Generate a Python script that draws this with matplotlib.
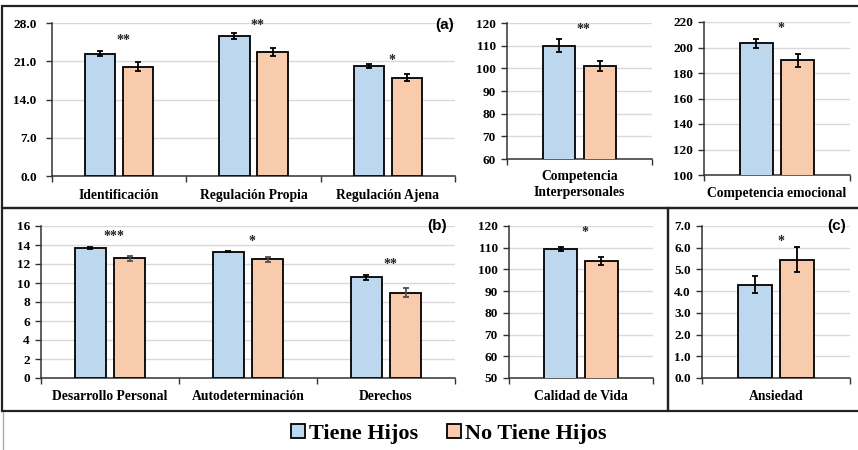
import matplotlib
matplotlib.use("Agg")
import matplotlib.pyplot as plt
from matplotlib.patches import Rectangle, Patch
from matplotlib.lines import Line2D
import numpy as np

# ---------------- data ----------------
cat_a = ['Identificación', 'Regulación Propia', 'Regulación Ajena']
a_tiene = [22.4, 25.6, 20.1]
a_tiene_err = [0.4, 0.55, 0.4]
a_no = [20.0, 22.7, 18.0]
a_no_err = [0.8, 0.8, 0.7]
a_sig = ['**', '**', '*']
a_sig_y = [24.8, 27.6, 21.2]

cat_ci = ['Competencia\nInterpersonales']
ci_tiene = [110.0]
ci_tiene_err = [2.8]
ci_no = [101.0]
ci_no_err = [2.2]
ci_sig = ['**']
ci_sig_y = [117.0]

cat_ce = ['Competencia emocional']
ce_tiene = [203.3]
ce_tiene_err = [3.3]
ce_no = [190.0]
ce_no_err = [5.0]
ce_sig = ['*']
ce_sig_y = [215.0]

cat_b = ['Desarrollo Personal', 'Autodeterminación', 'Derechos']
b_tiene = [13.7, 13.3, 10.6]
b_tiene_err = [0.12, 0.08, 0.25]
b_no = [12.6, 12.5, 9.0]
b_no_err = [0.25, 0.25, 0.5]
b_sig = ['***', '*', '**']
b_sig_y = [14.9, 14.4, 12.0]

cat_cv = ['Calidad de Vida']
cv_tiene = [109.4]
cv_tiene_err = [0.7]
cv_no = [103.9]
cv_no_err = [2.0]
cv_sig = ['*']
cv_sig_y = [117.2]

cat_an = ['Ansiedad']
an_tiene = [4.3]
an_tiene_err = [0.38]
an_no = [5.45]
an_no_err = [0.56]
an_sig = ['*']
an_sig_y = [6.3]

legend_labels = ['Tiene Hijos', 'No Tiene Hijos']

# ---------------- style ----------------
BLUE = '#BDD7EE'
ORANGE = '#F8CBAD'
SERIF = ['Liberation Serif', 'DejaVu Serif']
SANS = ['Liberation Sans', 'DejaVu Sans']

W, H = 858, 450
fig = plt.figure(figsize=(W / 100, H / 100), dpi=100)


def ax_at(x0, y0, x1, y1):
    return fig.add_axes([x0 / W, 1 - y1 / H, (x1 - x0) / W, (y1 - y0) / H])


def draw(ax, cats, t, te, n, ne, sig, sigy, ylim, step, fmt, err_no_color='black'):
    x = np.arange(len(cats))
    bw = 0.225
    off = 0.142
    ax.bar(x - off, t, bw, color=BLUE, edgecolor='black', linewidth=1.3, zorder=3)
    ax.bar(x + off, n, bw, color=ORANGE, edgecolor='black', linewidth=1.3, zorder=3)
    ax.errorbar(x - off, t, yerr=te, fmt='none', ecolor='black', elinewidth=1.3,
                capsize=2.5, capthick=1.3, zorder=4)
    ax.errorbar(x + off, n, yerr=ne, fmt='none', ecolor=err_no_color, elinewidth=1.3,
                capsize=2.5, capthick=1.3, zorder=4)
    for xi, s, sy in zip(x, sig, sigy):
        ax.text(xi + 0.03, sy, s, ha='center', va='center', fontsize=10,
                family=SERIF, fontweight='bold', color='#222222', zorder=5)
    ax.set_xlim(-0.5, len(cats) - 0.5)
    ax.set_ylim(*ylim)
    ticks = np.arange(ylim[0], ylim[1] + step / 2, step)
    ax.set_yticks(ticks)
    ax.set_yticklabels([fmt.format(v) for v in ticks], family=SERIF,
                       fontweight='bold', fontsize=9.5)
    ax.set_xticks(np.arange(-0.5, len(cats), 1.0))
    ax.set_xticklabels([])
    ax.set_xticks(x, minor=True)
    ax.set_xticklabels(cats, minor=True, family=SERIF, fontweight='bold',
                       fontsize=9.8, linespacing=1.3)
    ax.tick_params(axis='x', which='major', length=4, width=1, color='#333333')
    ax.tick_params(axis='x', which='minor', length=0, pad=9)
    ax.tick_params(axis='y', length=4, width=1, color='#333333', pad=4)
    ax.grid(axis='y', color='#D9D9D9', linewidth=1, zorder=0)
    ax.set_axisbelow(True)
    for sp in ['top', 'right']:
        ax.spines[sp].set_visible(False)
    for sp in ['left', 'bottom']:
        ax.spines[sp].set_color('#333333')
        ax.spines[sp].set_linewidth(1.1)
    ax.patch.set_alpha(0)


a1 = ax_at(52, 23, 455, 176)
draw(a1, cat_a, a_tiene, a_tiene_err, a_no, a_no_err, a_sig, a_sig_y, (0, 28), 7, '{:.1f}')
a1.tick_params(axis='y', pad=7)

a2 = ax_at(507, 23, 652, 159)
draw(a2, cat_ci, ci_tiene, ci_tiene_err, ci_no, ci_no_err, ci_sig, ci_sig_y, (60, 120), 10, '{:.0f}')
a2.tick_params(axis='x', which='minor', pad=8)

a3 = ax_at(704, 22, 850, 175)
draw(a3, cat_ce, ce_tiene, ce_tiene_err, ce_no, ce_no_err, ce_sig, ce_sig_y, (100, 220), 20, '{:.0f}')

b1 = ax_at(41, 226, 455, 378)
draw(b1, cat_b, b_tiene, b_tiene_err, b_no, b_no_err, b_sig, b_sig_y, (0, 16), 2, '{:.0f}',
     err_no_color='#505050')

b2 = ax_at(509, 226, 653, 378)
draw(b2, cat_cv, cv_tiene, cv_tiene_err, cv_no, cv_no_err, cv_sig, cv_sig_y, (50, 120), 10, '{:.0f}')

c1 = ax_at(702, 226, 850, 378)
draw(c1, cat_an, an_tiene, an_tiene_err, an_no, an_no_err, an_sig, an_sig_y, (0, 7), 1, '{:.1f}')

# panel labels
for lab, px, py in [('(a)', 445, 25), ('(b)', 437, 226), ('(c)', 837, 226)]:
    fig.text(px / W, 1 - py / H, lab, ha='center', va='center', fontsize=11,
             family=SANS, fontweight='bold')

# panel boxes
def box(x0, y0, x1, y1, lw=1.6, color='#222222'):
    fig.patches.append(Rectangle((x0 / W, 1 - y1 / H), (x1 - x0) / W, (y1 - y0) / H,
                                 transform=fig.transFigure, fill=False,
                                 edgecolor=color, linewidth=lw, zorder=10))

box(2, 6, 870, 208)
box(2, 208, 668, 411)
box(668, 208, 870, 411)
fig.lines.append(Line2D([2.5 / W, 2.5 / W], [0, 1 - 411 / H], transform=fig.transFigure,
                        color='#AAAAAA', linewidth=1))

# legend
handles = [Patch(facecolor=BLUE, edgecolor='black', linewidth=1.3),
           Patch(facecolor=ORANGE, edgecolor='black', linewidth=1.3)]
fig.legend(handles, legend_labels, loc='center', bbox_to_anchor=(449 / W, 1 - 434 / H),
           ncol=2, frameon=False, prop={'family': SERIF, 'weight': 'bold', 'size': 16},
           handlelength=0.6, handleheight=0.6, handletextpad=0.2, columnspacing=1.3)

fig.savefig('out.png', dpi=100)
